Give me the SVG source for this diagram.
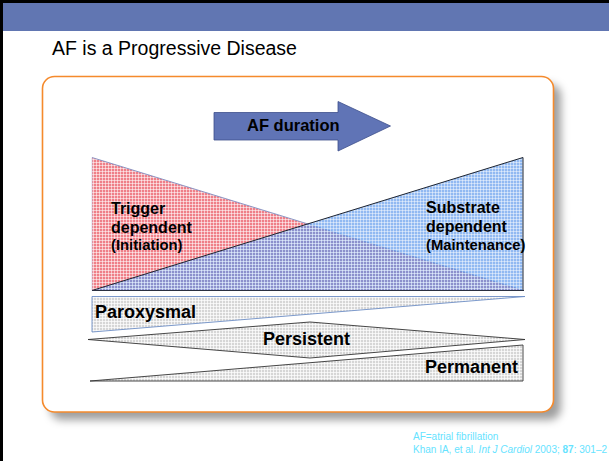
<svg xmlns="http://www.w3.org/2000/svg" width="609" height="461" viewBox="0 0 609 461">
  <style>
    .title { font-family: "Liberation Sans", Arial, sans-serif; font-size: 19.5px; fill: #000; }
    .lbl { font-family: "Liberation Sans", Arial, sans-serif; font-weight: bold; fill: #000; }
    .big { font-size: 18px; }
    .mid { font-size: 16px; }
    .sub { font-size: 14.8px; }
    .note { font-family: "Liberation Sans", Arial, sans-serif; font-size: 10px; fill: #66E3FF; }
  </style>
  <defs>
    <filter id="soft" x="-10%" y="-10%" width="130%" height="130%">
      <feGaussianBlur stdDeviation="4"/>
    </filter>
    <!-- fine woven textures -->
    <pattern id="redWeave" width="3" height="3" patternUnits="userSpaceOnUse">
      <rect width="3" height="3" fill="#EF7F88"/>
      <path d="M0 0.5H3M0.5 0V3" stroke="#FFFFFF" stroke-opacity="0.55" stroke-width="1"/>
    </pattern>
    <pattern id="blueWeave" width="3" height="3" patternUnits="userSpaceOnUse">
      <rect width="3" height="3" fill="#5C98EC" fill-opacity="0.68"/>
      <path d="M0 0.5H3M0.5 0V3" stroke="#FFFFFF" stroke-opacity="0.45" stroke-width="1"/>
    </pattern>
    <pattern id="grayWeave" width="3" height="3" patternUnits="userSpaceOnUse">
      <rect width="3" height="3" fill="#D6D6D6"/>
      <path d="M0 0.5H3M0.5 0V3" stroke="#FFFFFF" stroke-opacity="0.7" stroke-width="1"/>
    </pattern>
  </defs>

  <rect width="609" height="461" fill="#FFFFFF"/>

  <!-- slide frame and header band -->
  <g id="header">
    <rect x="0" y="0" width="609" height="3" fill="#000"/>
    <rect x="0" y="0" width="3" height="461" fill="#000"/>
    <rect x="3" y="3" width="606" height="28" fill="#6176B2"/>
  </g>

  <g id="title">
    <text class="title" x="52" y="55">AF is a Progressive Disease</text>
  </g>

  <!-- rounded panel with drop shadow -->
  <g id="panel">
    <rect x="50" y="84" width="511" height="336" rx="12" fill="#000" fill-opacity="0.38" filter="url(#soft)"/>
    <rect x="42.5" y="76.5" width="511" height="335.5" rx="12" fill="#FFFFFF" stroke="#F58A2C" stroke-width="1.6"/>
  </g>

  <!-- block arrow -->
  <g id="arrow-af-duration">
    <path d="M214 112.5H338V101.5L390.5 126L338 151V140H214Z" fill="#6074B6" stroke="#3E4F8C" stroke-width="0.8"/>
    <text class="lbl" x="247" y="131" font-size="16.5px">AF duration</text>
  </g>

  <!-- trigger dependent wedge -->
  <g id="trigger-dependent">
    <path d="M92 157.5L524 290.5H92Z" fill="url(#redWeave)"/>
    <path d="M92 157.5L524 290.5" fill="none" stroke="#7F8FC2" stroke-width="0.9"/>
    <path d="M92 157.5V290.5" fill="none" stroke="#B8C0E0" stroke-width="0.6"/>
    <text class="lbl mid" x="111" y="214">Trigger</text>
    <text class="lbl mid" x="111" y="233">dependent</text>
    <text class="lbl sub" x="111" y="250">(Initiation)</text>
  </g>

  <!-- substrate dependent wedge -->
  <g id="substrate-dependent">
    <path d="M92 290.5L523 157.5V290.5Z" fill="url(#blueWeave)"/>
    <path d="M92 290.5L523 157.5V290.5" fill="none" stroke="#1E2430" stroke-width="1"/>
    <path d="M92 290.5H524" fill="none" stroke="#2A3040" stroke-width="1.2"/>
    <text class="lbl mid" x="426" y="213">Substrate</text>
    <text class="lbl mid" x="426" y="232">dependent</text>
    <text class="lbl sub" x="426" y="250">(Maintenance)</text>
  </g>

  <!-- paroxysmal band -->
  <g id="paroxysmal">
    <path d="M92 296.5H525L92 332Z" fill="url(#grayWeave)" stroke="#6E8EC6" stroke-width="0.9"/>
    <text class="lbl big" x="95" y="318">Paroxysmal</text>
  </g>

  <!-- persistent band -->
  <g id="persistent">
    <path d="M88 339.5L310 322L525 339.5L310 358Z" fill="url(#grayWeave)" stroke="#333" stroke-width="0.9"/>
    <text class="lbl big" x="263" y="345">Persistent</text>
  </g>

  <!-- permanent band -->
  <g id="permanent">
    <path d="M90 381L523 345V381Z" fill="url(#grayWeave)" stroke="#333" stroke-width="0.9"/>
    <text class="lbl big" x="425" y="373">Permanent</text>
  </g>

  <!-- footnote -->
  <g id="footnote">
    <text class="note" x="413" y="440">AF=atrial fibrillation</text>
    <text class="note" x="413" y="453">Khan IA, et al. <tspan font-style="italic">Int J Cardiol</tspan> 2003; <tspan font-weight="bold">87</tspan>: 301–2</text>
  </g>
</svg>
